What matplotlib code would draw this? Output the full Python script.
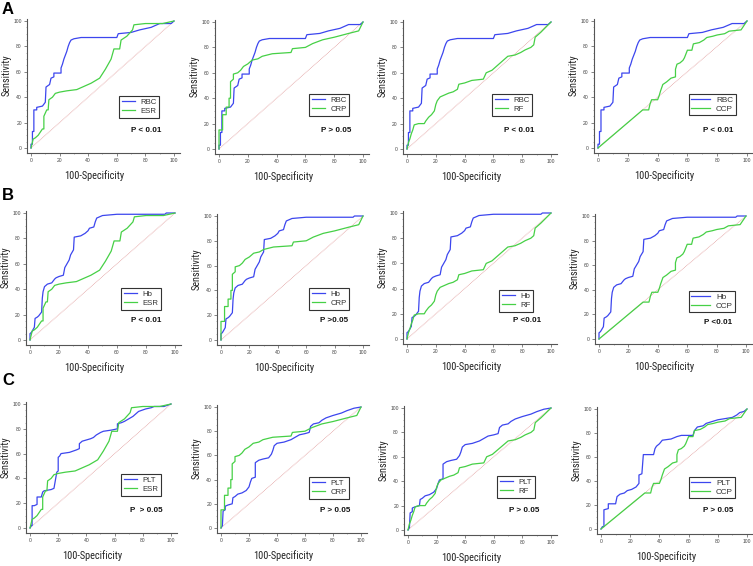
import matplotlib
matplotlib.use('Agg')
import matplotlib.pyplot as plt
from matplotlib.ticker import MultipleLocator
from matplotlib import font_manager as fm
from matplotlib.font_manager import FontProperties

W, H = 753, 566

# ---- ROC curves: (100-Specificity, Sensitivity) vertices ----
RBC = [(0, 0), (0, 3), (1, 3), (1, 13), (2, 13), (2, 30), (4, 30), (4, 32), (8, 33), (10, 36),
       (10.5, 48), (13, 50), (14, 55), (16, 56), (16, 59), (21, 59), (21, 63), (22, 66), (23, 70),
       (24, 73), (25, 76), (26, 80), (27, 83), (28, 85), (30, 86), (35, 87), (60, 87), (61, 90),
       (70, 91), (76, 93), (84, 95), (88, 97), (90, 98), (98, 98), (100, 100)]
ESR = [(0, 0), (1.5, 7), (3, 8), (5, 10), (8, 15), (9, 15), (9, 25), (11, 30), (12, 30), (12.5, 38),
       (15, 40), (17, 43), (20, 44), (25, 45), (32, 46), (36, 48), (42, 51), (48, 55), (52, 62),
       (56, 70), (58, 78), (62, 78), (63, 85), (67, 88), (71, 93), (72, 97), (80, 98), (92, 98),
       (100, 100)]
CRP = [(0, 0), (0, 15), (2.5, 15), (2.5, 27), (5, 27), (5, 33), (7, 33), (7, 40), (8, 40), (8, 53),
       (10, 55), (10, 59), (13, 60), (15, 62), (17, 65), (20, 67), (23, 70), (27, 71), (30, 73),
       (37, 75), (50, 76), (51, 79), (60, 80), (65, 83), (72, 86), (80, 88), (90, 91), (97, 93),
       (100, 100)]
RF = [(0, 0), (1, 5), (2, 8), (3, 12), (4, 15), (5, 19), (8, 20), (12, 20), (13, 22), (15, 25),
      (17, 27), (19, 30), (20, 35), (21, 38), (23, 41), (25, 42), (29, 44), (32, 45), (35, 47),
      (36, 51), (40, 52), (45, 54), (53, 55), (55, 60), (59, 62), (61, 64), (64, 67), (67, 70),
      (70, 73), (75, 74), (79, 76), (82, 78), (86, 80), (88, 82), (89, 88), (93, 92), (100, 100)]
CCP = [(0, 0), (28, 28), (30, 30), (34, 30), (35, 35), (36, 38), (40, 38), (41, 41), (42, 45),
       (43.5, 50), (46, 52), (49, 55), (52, 56), (52, 62), (53, 66), (55, 67), (57, 69), (58, 71),
       (60, 77), (63, 77), (64, 82), (68, 83), (71, 85), (73, 87), (77, 88), (80, 89), (85, 90),
       (88, 92), (96, 93), (100, 100)]
HB = [(0, 0), (0, 5), (1, 6), (2, 8), (3, 10), (3.5, 17), (5, 18), (6, 19), (8, 22), (8.5, 33),
      (9, 38), (10, 42), (12, 44), (15, 45), (17, 48), (18, 49), (20, 50), (23, 51), (24, 57),
      (25, 59), (27, 63), (28, 67), (30, 71), (30.5, 81), (35, 82), (38, 84), (40, 86), (41, 88),
      (44, 89), (45, 93), (46, 96), (50, 98), (60, 99), (93, 99), (94, 100), (100, 100)]
PLT_C1 = [(0, 0), (1, 2), (1.5, 2), (1.5, 18), (3, 18), (5, 19), (5, 25), (8, 25), (9, 29), (10, 30),
          (15, 31), (17, 32), (19, 45), (20, 46), (20, 57), (21, 58), (22, 60), (28, 61), (33, 63),
          (35, 64), (35, 68), (37, 70), (40, 71), (43, 72), (45, 73), (47, 75), (50, 77), (52, 78),
          (58, 79), (62, 80), (62, 84), (65, 85), (67, 86), (70, 88), (73, 90), (75, 92), (77, 94),
          (82, 96), (86, 97), (88, 98), (95, 98), (100, 100)]
PLT_C23 = [(0, 0), (1, 2), (1.5, 14), (3, 15), (3, 18), (5, 19), (8, 20), (8.5, 25), (10, 26),
           (12, 28), (15, 29), (18, 31), (20, 34), (21, 38), (22, 41), (24.5, 42), (24.5, 54),
           (27, 56), (30, 57), (34, 58), (36, 61), (37, 64), (38, 68), (40, 70), (45, 71), (50, 73),
           (53, 75), (56, 77), (60, 78), (63, 79), (64, 84), (66, 86), (70, 87), (72, 89), (75, 91),
           (80, 93), (86, 95), (90, 97), (95, 99), (100, 100)]
PLT_C4 = [(0, 0), (1, 2), (2, 2), (2, 16), (5, 17), (5, 21), (10, 21), (11, 27), (13, 29), (16, 30),
          (18, 32), (21, 33), (24, 35), (26, 38), (26, 45), (28, 46), (29, 62), (36, 62), (37, 67),
          (38, 69), (40, 71), (42, 74), (48, 75), (52, 77), (55, 78), (63, 78), (64, 82), (66, 85),
          (70, 86), (72, 88), (80, 91), (85, 92), (90, 93), (93, 95), (95, 97), (98, 98), (100, 100)]
DIAG = [(0, 0), (100, 100)]

# ---- panels: (blue curve, blue label, green curve, green label, p text) ----
PANELS = [
    (RBC, "RBC", ESR, "ESR", "P < 0.01"),
    (RBC, "RBC", CRP, "CRP", "P > 0.05"),
    (RBC, "RBC", RF, "RF", "P < 0.01"),
    (RBC, "RBC", CCP, "CCP", "P < 0.01"),
    (HB, "Hb", ESR, "ESR", "P < 0.01"),
    (HB, "Hb", CRP, "CRP", "P >0.05"),
    (HB, "Hb", RF, "RF", "P <0.01"),
    (HB, "Hb", CCP, "CCP", "P <0.01"),
    (PLT_C1, "PLT", ESR, "ESR", "P  > 0.05"),
    (PLT_C23, "PLT", CRP, "CRP", "P > 0.05"),
    (PLT_C23, "PLT", RF, "RF", "P > 0.05"),
    (PLT_C4, "PLT", CCP, "CCP", "P > 0.05"),
]
ROW_LETTERS = ["A", "B", "C"]

# ---- layout in pixels ----
AXPIX = [(31, 174, 148, 21), (219, 363, 149, 22), (407, 551, 149, 22), (598, 747, 148, 21),
         (30, 175, 340, 213), (221, 363, 340, 216), (407, 551, 339, 213), (599, 746, 339, 216),
         (30, 171, 528, 404), (221, 361, 528, 407), (408, 551, 530, 408), (601, 747, 529, 409)]
LEGPIX = [(119, 96), (309, 94), (492, 94), (689, 94),
          (121, 288), (309, 288), (499, 290), (689, 291),
          (121, 474), (309, 477), (497, 476), (689, 477)]
PPIX = [(131, 131), (321, 131), (504, 130), (703, 131),
        (131, 321), (320, 321), (513, 321), (704, 322),
        (130, 511), (320, 511), (509, 510), (703, 510)]
LETTERPIX = [(2, 2), (2, 188), (2, 373)]

BLUE = '#3c46ee'
GREEN = '#46d046'
DIAGC = '#e3a3a3'
ARIAL = ['Liberation Sans', 'DejaVu Sans']

# choose a condensed face for axis titles
_cond = None
for f in fm.fontManager.ttflist:
    if 'Narrow' in f.name or 'Condensed' in f.fname and 'Bold' not in f.fname and 'Oblique' not in f.fname:
        if 'Narrow' in f.name and ('Bold' in f.fname or 'Italic' in f.fname):
            continue
        _cond = f.fname
        if 'Liberation' in f.name:
            break
if _cond is not None:
    NARROW_PROPS = dict(fontproperties=FontProperties(fname=_cond, size=7.4))
else:
    NARROW_PROPS = dict(family=ARIAL, fontsize=6.2)

XMIN, XMAX, YMIN, YMAX = -3, 104, -4, 101.5

fig = plt.figure(figsize=(W / 100, H / 100), dpi=100)
fig.patch.set_facecolor('white')


def fx(px):
    return px / W


def fy(py):
    return 1 - py / H


for i, (c1, l1, c2, l2, ptxt) in enumerate(PANELS):
    x0, x100, y0, y100 = AXPIX[i]
    sx = (x100 - x0) / 100.0
    sy = (y0 - y100) / 100.0
    left = x0 + XMIN * sx
    right = x0 + XMAX * sx
    bottom = y0 - YMIN * sy
    top = y0 - YMAX * sy
    ax = fig.add_axes([fx(left), fy(bottom), (right - left) / W, (bottom - top) / H])
    ax.set_xlim(XMIN, XMAX)
    ax.set_ylim(YMIN, YMAX)
    for s in ('top', 'right'):
        ax.spines[s].set_visible(False)
    for s in ('left', 'bottom'):
        ax.spines[s].set_color('#555555')
        ax.spines[s].set_linewidth(0.8)
    ax.set_xticks([0, 20, 40, 60, 80, 100])
    ax.set_yticks([0, 20, 40, 60, 80, 100])
    ax.xaxis.set_minor_locator(MultipleLocator(10))
    ax.yaxis.set_minor_locator(MultipleLocator(5))
    ax.tick_params(which='major', length=2, width=0.5, color='#555555', labelsize=3.6,
                   labelcolor='#444444', pad=1.5)
    ax.tick_params(which='minor', length=1, width=0.4, color='#777777')
    for lab in ax.get_xticklabels() + ax.get_yticklabels():
        lab.set_family(ARIAL)

    ax.plot([p[0] for p in DIAG], [p[1] for p in DIAG], color=DIAGC, lw=0.6, ls=(0, (1, 0.8)))
    ax.plot([p[0] for p in c1], [p[1] for p in c1], color=BLUE, lw=0.9, label=l1)
    ax.plot([p[0] for p in c2], [p[1] for p in c2], color=GREEN, lw=0.9, label=l2)

    col = i % 4
    fs = 5.9 if col == 3 else 5.6
    hl = 2.3 if col == 3 else 1.7
    bp = 0.3 if col == 3 else 0.35
    ls_ = 0.1 if col == 3 else 0.15
    lx, ly = LEGPIX[i]
    leg = ax.legend(loc='upper left', bbox_to_anchor=(fx(lx), fy(ly)),
                    bbox_transform=fig.transFigure, borderaxespad=0,
                    prop={'family': ARIAL, 'size': fs},
                    handlelength=hl, handletextpad=0.7, borderpad=bp,
                    labelspacing=ls_, fancybox=False, framealpha=1)
    leg.get_frame().set_edgecolor('#333333')
    leg.get_frame().set_linewidth(0.8)
    for t in leg.get_texts():
        t.set_color('#333333')

    px, py = PPIX[i]
    fig.text(fx(px), fy(py), ptxt, fontsize=5.8, fontweight='bold', family=ARIAL,
             ha='left', va='center', color='#111111')

    mid_x = (x0 + x100) / 2
    mid_y = (y0 + y100) / 2
    fig.text(fx(mid_x - 8), fy(y0 + 28), "100-Specificity",
             ha='center', va='center', color='#222222', **NARROW_PROPS)
    fig.text(fx(x0 - 24), fy(mid_y - 9), "Sensitivity",
             ha='center', va='center', rotation=90, color='#222222', **NARROW_PROPS)

for r, letter in enumerate(ROW_LETTERS):
    lx, ly = LETTERPIX[r]
    fig.text(fx(lx), fy(ly), letter, fontsize=12, fontweight='bold', family=ARIAL,
             ha='left', va='top', color='#000000')

fig.savefig('out.png', dpi=100, facecolor='white')
